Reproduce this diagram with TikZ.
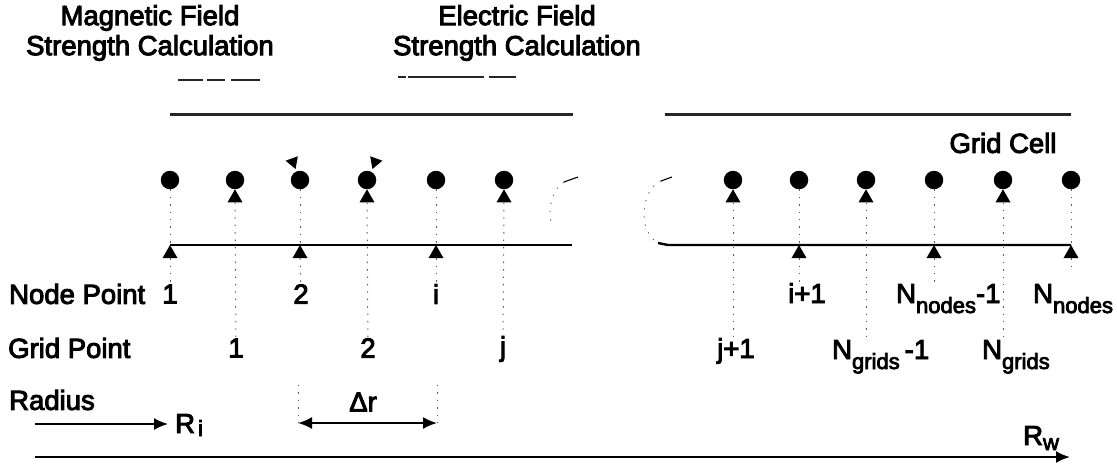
\documentclass[tikz,border=0pt]{standalone}
\usepackage{fontspec}
\setmainfont[FakeBold=3.5]{Liberation Sans}
\usetikzlibrary{shapes, arrows.meta, calc, positioning}

\newcommand{\lowtxt}[1]{\raisebox{-10pt}{\fontsize{22}{22}\selectfont #1}}

\tikzset{
    txt/.style={inner sep=0pt, font=\fontsize{27.5}{30}\selectfont, align=center},
    pt/.style={fill=black, circle, inner sep=0pt, minimum size=18.5pt},
    tri/.style={regular polygon, regular polygon sides=3, fill=black, inner sep=0pt, minimum size=17.3pt},
    dotline/.style={dash pattern=on 1.4pt off 6pt, black!65, line width=1pt},
    axis/.style={line width=2.4pt},
    band/.style={line width=2.2pt, black!85},
    breakline/.style={dash pattern=on 1.3pt off 7pt, black!55, line width=1pt},
    head/.style={-{Latex[length=14pt, width=12pt]}}
}

\begin{document}
\begin{tikzpicture}[x=1pt, y=-1pt]

            \useasboundingbox (0,0) rectangle (1117,467);

            % points along the grid
            \foreach \n/\x in {1/170, 2/300, 3/436, 4/799, 5/934, 6/1071}{
                \node[pt] (N\n) at (\x,180) {};
                \node[tri] (A\n) at (\x,253.7) {};
            }
            \foreach \n/\x in {1/235, 2/367, 3/504, 4/733, 5/866, 6/1003}{
                \node[pt] (G\n) at (\x,180) {};
                \node[tri] (T\n) at (\x,198) {};
            }

            % labels
            \node[txt] (mag) at (150,33) {Magnetic Field\\Strength Calculation};
            \node[txt] (ele) at (517,33) {Electric Field\\Strength Calculation};
            \node[txt] (cell) at (1003,143) {Grid Cell};

            \node[txt, anchor=west] (nodept) at (9,294) {Node Point};
            \node[txt, anchor=west] (gridpt) at (8,348) {Grid Point};
            \node[txt, anchor=west] (radius) at (9,400) {Radius};

            \node[txt] (L1) at (170,294) {1};
            \node[txt] (L2) at (301,294) {2};
            \node[txt] (L3) at (436,294) {i};
            \node[txt, anchor=base west] (L4) at (788,303) {i+1};
            \node[txt, anchor=base west] (L5) at (896,303) {N\lowtxt{nodes}-1};
            \node[txt, anchor=base west] (L6) at (1033,303) {N\lowtxt{nodes}};

            \node[txt] (M1) at (236,348) {1};
            \node[txt] (M2) at (368,348) {2};
            \node[txt] (M3) at (503,349) {j};
            \node[txt, anchor=base west] (M4) at (717,358) {j+1};
            \node[txt, anchor=base west] (M5) at (832,359) {N\lowtxt{grids}\kern5pt-1};
            \node[txt, anchor=base west] (M6) at (982,359) {N\lowtxt{grids}};

            \node[txt] (dr) at (363,402) {Δr};
            \node[txt, anchor=base west] (Ri) at (175,433) {R\kern3pt\raisebox{-3pt}{\fontsize{22}{22}\selectfont i}};
            \node[txt, anchor=base west] (Rw) at (1023,445) {R\raisebox{-5pt}{\fontsize{22}{22}\selectfont w}};

            % vertical guides
            \draw[dotline] (N1) -- (A1);
            \draw[dotline] (A1) -- (L1);
            \draw[dotline] (N2) -- (A2);
            \draw[dotline] (A2) -- (L2);
            \draw[dotline] (N3) -- (A3);
            \draw[dotline] (A3) -- (L3);
            \draw[dotline] (N4) -- (A4);
            \draw[dotline] (A4) -- (A4 |- L4.north);
            \draw[dotline] (N5) -- (A5);
            \draw[dotline] (A5) -- (A5 |- L5.north);
            \draw[dotline] (N6) -- (A6);
            \draw[dotline] (A6) -- ++(0,18);

            \draw[dotline] (T1) -- (M1);
            \draw[dotline] (T2) -- (M2);
            \draw[dotline] (T3) -- (M3);
            \draw[dotline] (T4) -- (T4 |- M4.north);
            \draw[dotline] (T5) -- (T5 |- M5.north);
            \draw[dotline] (T6) -- (T6 |- M6.north);

            % horizontal bands
            \coordinate (B1) at (170,114.5);
            \coordinate (B2) at (573,114.5);
            \coordinate (B3) at (665,114.5);
            \coordinate (B4) at (1071,114.5);
            \coordinate (C1) at (170,245);
            \coordinate (C2) at (572,245);
            \coordinate (C3) at (658,243);
            \coordinate (C4) at (1071,245);
            \coordinate (C5) at (668,245);
            \draw[band] (B1) -- (B2);
            \draw[band] (B3) -- (B4);
            \draw[axis] (C1) -- (C2);
            \draw[axis] (C3) -- (C5) -- (C4);

            % broken ends of the cell
            \coordinate (E1) at (564,182);
            \coordinate (E2) at (578,177);
            \coordinate (E3) at (552,226);
            \coordinate (E4) at (661,181);
            \coordinate (E5) at (672,177);
            \draw[breakline] (E1) .. controls (552,190) and (547,210) .. (E3);
            \draw[breakline] (E4) .. controls (640,190) and (638,232) .. (C3);
            \draw[line width=1.1pt] (E1) -- (E2);
            \draw[line width=1.1pt] (E4) -- (E5);

            % short bars under the titles
            \coordinate (D1) at (178,80);
            \coordinate (D2) at (260,80);
            \coordinate (D3) at (398,77);
            \coordinate (D4) at (516,77);
            \draw[line width=1.8pt, black!85, dash pattern=on 25pt off 4pt on 18pt off 6pt on 29pt off 1pt] (D1) -- (D2);
            \draw[line width=1.8pt, black!85, dash pattern=on 8pt off 2pt on 76pt off 5pt on 27pt off 1pt] (D3) -- (D4);

            % small heads above the points
            \node[tri, minimum size=15pt, rotate=200] (H1) at (293,162) {};
            \node[tri, minimum size=15pt, rotate=160] (H2) at (375,162) {};

            % radius arrows
            \coordinate (R0) at (35,424);
            \coordinate (R1) at (35,457);
            \coordinate (R2) at (1070,457);
            \coordinate (S1) at (298,423);
            \coordinate (S2) at (437,423);
            \coordinate (S3) at (298,385);
            \coordinate (S4) at (437,385);
            \draw[line width=1.8pt, head, shorten >=7pt] (R0) -- (R0 -| Ri.west);
            \draw[line width=2.2pt, head] (R1) -- (R2);
            \draw[line width=2pt, {Latex[length=14pt, width=12pt]}-{Latex[length=14pt, width=12pt]}] (S1) -- (S2);
            \draw[dotline] (S3) -- (S1);
            \draw[dotline] (S4) -- (S2);

        \end{tikzpicture}
\end{document}
